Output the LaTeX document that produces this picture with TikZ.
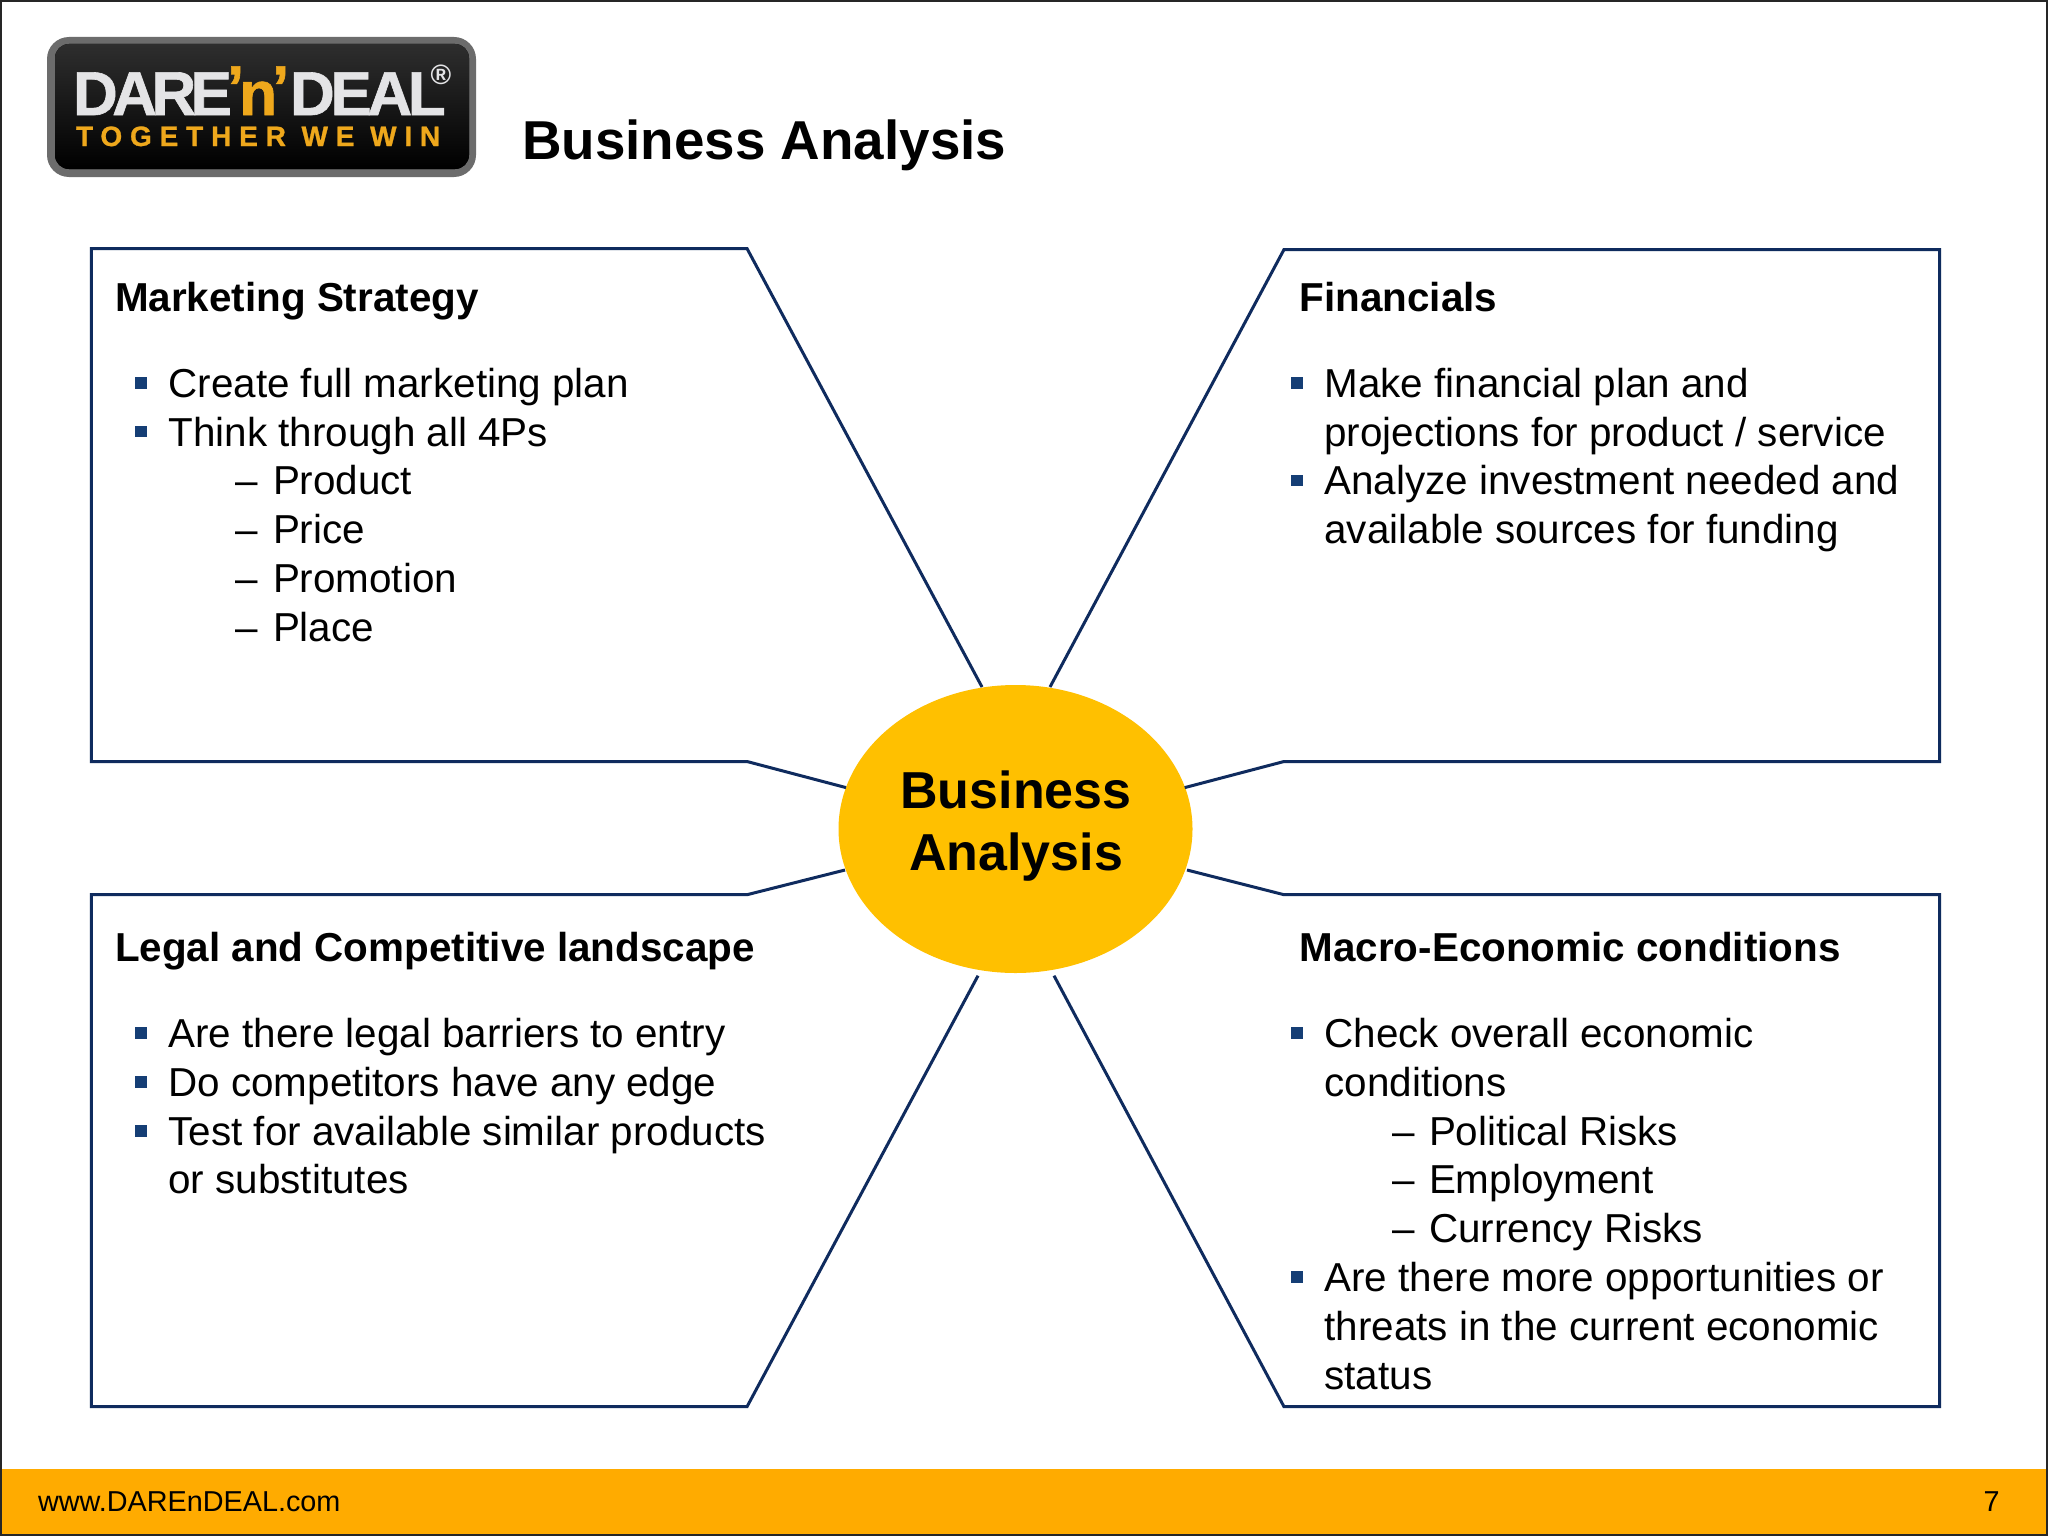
\documentclass[tikz,border=0pt]{standalone}
\usepackage{fontspec}
\setmainfont{Liberation Sans}
\usetikzlibrary{shapes.geometric}
\definecolor{navy}{HTML}{0F2B5E}
\definecolor{bulletc}{HTML}{153E75}
\definecolor{hub}{HTML}{FFC000}
\definecolor{band}{HTML}{FFAB00}
\definecolor{logogold}{HTML}{EFA81C}
\definecolor{logowhite}{HTML}{E4E4E6}
\newcommand{\fsz}[1]{\fontsize{#1}{#1}\selectfont}
\tikzset{
  x=0.5pt,y=-0.5pt,
  txt/.style={anchor=base west,inner sep=0pt,outer sep=0pt,text=black},
  body/.style={txt,font=\fsz{20.2}},
  head/.style={txt,font=\fsz{20.2}\bfseries},
  outline/.style={draw=navy,line width=1.5pt,line join=miter},
  bulletbox/.style={fill=bulletc,draw=none,minimum size=5.6pt,inner sep=0pt,outer sep=0pt,rectangle,anchor=center},
}
\begin{document}
\begin{tikzpicture}
\useasboundingbox (0,0) rectangle (2048,1536);
\fill[white] (0,0) rectangle (2048,1536);
% footer band
\fill[band] (0,1469) rectangle (2048,1535);
\draw[black!85,line width=0.8pt] (0.8,0.8) rectangle (2047.2,1535.2);
\node[txt,font=\fsz{14.4}] (url) at (38,1511) {www.DAREnDEAL.com};
\node[anchor=base east,inner sep=0pt,font=\fsz{14.4}] (pageno) at (2000,1511) {7};
% logo
\fill[gray!85!black,rounded corners=11pt] (47,37) rectangle (476,177);
\fill[top color=black!82,bottom color=black,rounded corners=7pt] (55,44) rectangle (469,169);
\node[txt,font=\fsz{31}\bfseries\addfontfeatures{LetterSpace=-9,FakeBold=1},text=logowhite] (logoa) at (73,115) {DARE};
\node[txt,font=\fsz{31}\bfseries\addfontfeatures{FakeBold=1},text=logogold] (logob) at (227,115) {\raisebox{3pt}{’}\kern-2.5pt n\kern-2.5pt\raisebox{3pt}{’}};
\node[txt,font=\fsz{31}\bfseries\addfontfeatures{LetterSpace=-7,FakeBold=1},text=logowhite] (logoc) at (290,115) {DEAL};
\node[inner sep=0pt,font=\fsz{14}\bfseries,text=logowhite] (logor) at (441,75) {®};
\node[txt,font=\fsz{14}\bfseries\addfontfeatures{LetterSpace=28,FakeBold=1},text=logogold] (logod) at (76,146) {TOGETHER WE WIN};
% title
\node[txt,font=\fsz{27.4}\bfseries] (title) at (522,159) {Business Analysis};
% hub
\node[ellipse,fill=hub,draw=none,minimum width=177pt,minimum height=144pt,inner sep=0pt] (hubn) at (1015.5,829) {};
\node[anchor=center,align=center,inner sep=0pt,font=\fontsize{26}{31.4}\selectfont\bfseries] (hubt) at (1016,826) {Business\\Analysis};
% outlines
\coordinate (tla) at (982,687); \coordinate (tlb) at (747,248.5); \coordinate (tlc) at (91.4,248.5); \coordinate (tld) at (91.4,761.5); \coordinate (tle) at (747,761.5); \coordinate (tlf) at (846,787.6);
\coordinate (tra) at (1050,687); \coordinate (trb) at (1284,249.5); \coordinate (trc) at (1939.6,249.5); \coordinate (trd) at (1939.6,761.5); \coordinate (tre) at (1284,761.5); \coordinate (trf) at (1184.7,787.6);
\coordinate (bla) at (845,870); \coordinate (blb) at (747,894.7); \coordinate (blc) at (91.4,894.7); \coordinate (bld) at (91.4,1406.7); \coordinate (ble) at (747,1406.7); \coordinate (blf) at (978,975.7);
\coordinate (bra) at (1187,870); \coordinate (brb) at (1284,894.7); \coordinate (brc) at (1939.6,894.7); \coordinate (brd) at (1939.6,1406.7); \coordinate (bre) at (1284,1406.7); \coordinate (brf) at (1054,975.7);
\draw[outline] (tla) -- (tlb) -- (tlc) -- (tld) -- (tle) -- (tlf);
\draw[outline] (tra) -- (trb) -- (trc) -- (trd) -- (tre) -- (trf);
\draw[outline] (bla) -- (blb) -- (blc) -- (bld) -- (ble) -- (blf);
\draw[outline] (bra) -- (brb) -- (brc) -- (brd) -- (bre) -- (brf);
% marketing
\node[head] (h1) at (115,311) {Marketing Strategy};
\node[bulletbox] (b11) at (141,383) {}; \node[body] (t11) at (168.5,397) {Create full marketing plan};
\node[bulletbox] (b12) at (141,431.5) {}; \node[body] (t12) at (168.5,446) {Think through all 4Ps};
\node[body] (d11) at (235,494.7) {–}; \node[body] (t13) at (273,494.7) {Product};
\node[body] (d12) at (235,543.5) {–}; \node[body] (t14) at (273,543.5) {Price};
\node[body] (d13) at (235,592.4) {–}; \node[body] (t15) at (273,592.4) {Promotion};
\node[body] (d14) at (235,641) {–}; \node[body] (t16) at (273,641) {Place};
% financials
\node[head] (h2) at (1299.6,311) {Financials};
\node[bulletbox] (b21) at (1297,383) {}; \node[body] (t21) at (1324.5,397) {Make financial plan and};
\node[body] (t22) at (1324.5,446) {projections for product / service};
\node[bulletbox] (b22) at (1297,480.5) {}; \node[body] (t23) at (1324.5,494.7) {Analyze investment needed and};
\node[body] (t24) at (1324.5,543.5) {available sources for funding};
% legal
\node[head] (h3) at (115,961.3) {Legal and Competitive landscape};
\node[bulletbox] (b31) at (141,1033) {}; \node[body] (t31) at (168.5,1047.5) {Are there legal barriers to entry};
\node[bulletbox] (b32) at (141,1082) {}; \node[body] (t32) at (168.5,1096.3) {Do competitors have any edge};
\node[bulletbox] (b33) at (141,1131) {}; \node[body] (t33) at (168.5,1145) {Test for available similar products};
\node[body] (t34) at (168.5,1193.8) {or substitutes};
% macro
\node[head] (h4) at (1299.6,961.3) {Macro-Economic conditions};
\node[bulletbox] (b41) at (1297,1033) {}; \node[body] (t41) at (1324.5,1047.5) {Check overall economic};
\node[body] (t42) at (1324.5,1096.3) {conditions};
\node[body] (d41) at (1392,1145) {–}; \node[body] (t43) at (1429,1145) {Political Risks};
\node[body] (d42) at (1392,1193.8) {–}; \node[body] (t44) at (1429,1193.8) {Employment};
\node[body] (d43) at (1392,1242.6) {–}; \node[body] (t45) at (1429,1242.6) {Currency Risks};
\node[bulletbox] (b42) at (1297,1277) {}; \node[body] (t46) at (1324.5,1291.4) {Are there more opportunities or};
\node[body] (t47) at (1324.5,1340) {threats in the current economic};
\node[body] (t48) at (1324.5,1389) {status};
\end{tikzpicture}
\end{document}
